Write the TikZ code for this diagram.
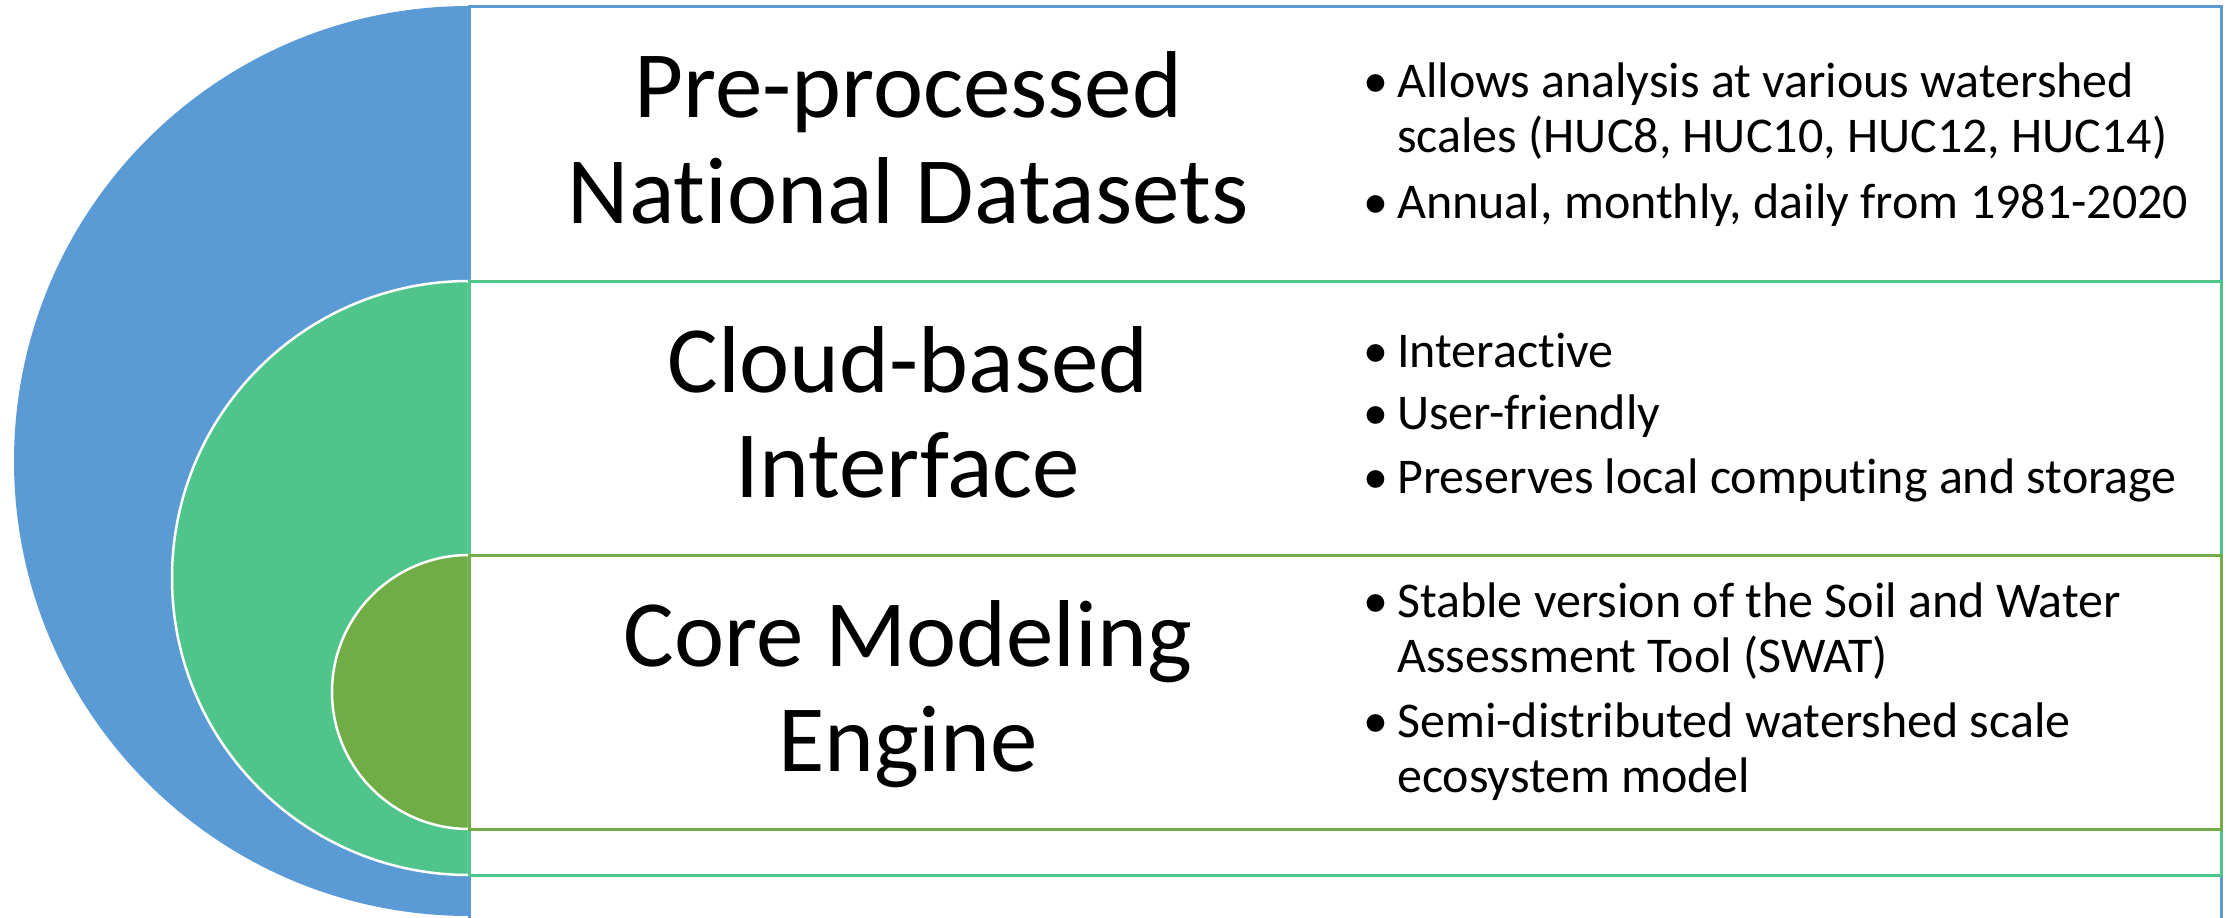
\documentclass[tikz,border=0pt]{standalone}
\usepackage{fontspec}
\setmainfont{Carlito}[Ligatures=NoCommon]
\definecolor{cblue}{HTML}{5B9BD5}
\definecolor{cgreen}{HTML}{4FC58C}
\definecolor{colive}{HTML}{70AD47}
\begin{document}
\begin{tikzpicture}[x=1pt,y=-1pt,
  ttl/.style={anchor=base, font=\fontsize{95}{106}\selectfont, inner sep=0pt},
  bul/.style={anchor=base west, font=\fontsize{50}{55}\selectfont, inner sep=0pt},
  dotm/.style={anchor=base, font=\fontsize{50}{55}\selectfont, inner sep=0pt},
  boxline/.style={line width=3pt},
  half/.style={draw=white, line width=2.5pt}]
\useasboundingbox (0,0) rectangle (2233,918);
\clip (0,0) rectangle (2233,918);
% outer layer
\fill[cblue] (469,6) arc[start angle=-90, end angle=-270, radius=455] -- cycle;
\draw[cblue, boxline] (469,6) rectangle (2221,922);
% middle layer
\filldraw[cgreen, half] (469,281) arc[start angle=-90, end angle=-270, radius=297] -- cycle;
\draw[cgreen, boxline] (469,281) rectangle (2221,875);
% inner layer
\filldraw[colive, half] (469,555) arc[start angle=-90, end angle=-270, radius=137] -- cycle;
\draw[colive, boxline] (469,555) rectangle (2221,829);
% titles
\node[ttl] (t1a) at (908,117) {Pre-processed};
\node[ttl] (t1b) at (908,223) {National Datasets};
\node[ttl] (t2a) at (908,392) {Cloud-based};
\node[ttl] (t2b) at (908,497) {Interface};
\node[ttl] (t3a) at (908,666) {Core Modeling};
\node[ttl] (t3b) at (908,771) {Engine};
% bullets box 1
\node[dotm] (d11) at (1376,97) {•};
\node[bul] (b11) at (1397,97) {Allows analysis at various watershed};
\node[bul] (b11b) at (1397,152) {scales (HUC8, HUC10, HUC12, HUC14)};
\node[dotm] (d12) at (1376,218) {•};
\node[bul] (b12) at (1397,218) {Annual, monthly, daily from 1981-2020};
% bullets box 2
\node[dotm] (d21) at (1376,367) {•};
\node[bul] (b21) at (1397,367) {Interactive};
\node[dotm] (d22) at (1376,429) {•};
\node[bul] (b22) at (1397,429) {User-friendly};
\node[dotm] (d23) at (1376,493) {•};
\node[bul] (b23) at (1397,493) {Preserves local computing and storage};
% bullets box 3
\node[dotm] (d31) at (1376,617) {•};
\node[bul] (b31) at (1397,617) {Stable version of the Soil and Water};
\node[bul] (b31b) at (1397,672) {Assessment Tool (SWAT)};
\node[dotm] (d32) at (1376,737) {•};
\node[bul] (b32) at (1397,737) {Semi-distributed watershed scale};
\node[bul] (b32b) at (1397,792) {ecosystem model};
\end{tikzpicture}
\end{document}
